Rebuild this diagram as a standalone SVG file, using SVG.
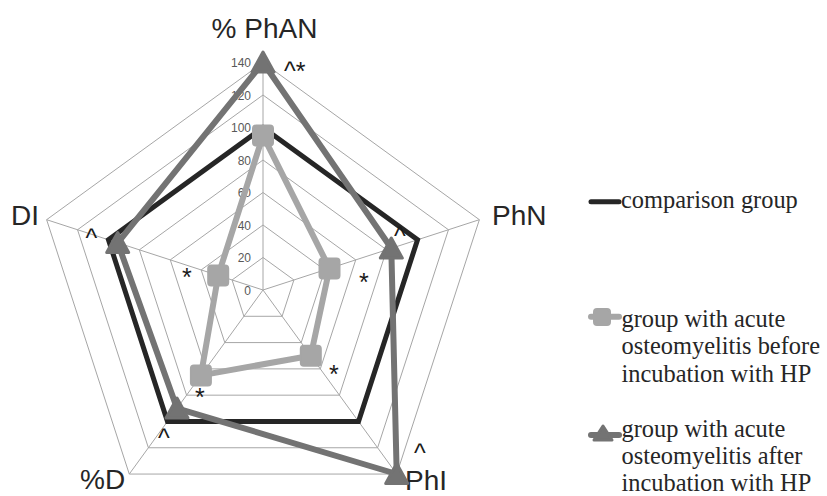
<svg xmlns="http://www.w3.org/2000/svg" width="827" height="496" viewBox="0 0 827 496">
<style>
.grid{fill:none;stroke:#a6a6a6;stroke-width:1}
.ax{font-family:"Liberation Sans",Arial,sans-serif;font-size:28px;fill:#262626}
.tick{font-family:"Liberation Sans",Arial,sans-serif;font-size:12px;fill:#595959;text-anchor:end}
.note{font-family:"Liberation Sans",Arial,sans-serif;font-size:25px;fill:#1a1a1a}
.leg{font-family:"Liberation Serif","Times New Roman",serif;font-size:24.4px;fill:#262626}
.s1{fill:none;stroke:#262626;stroke-width:5;stroke-linejoin:miter}
.s2{fill:none;stroke:#a6a6a6;stroke-width:6;stroke-linejoin:round}
.s3{fill:none;stroke:#737373;stroke-width:6;stroke-linejoin:round}
.sq{fill:#a6a6a6;stroke:#a6a6a6;stroke-width:2;stroke-linejoin:round}
.tri{fill:#737373;stroke:#737373;stroke-width:3;stroke-linejoin:round}
</style>
<rect width="827" height="496" fill="#ffffff"/>
<g id="grid">
<polygon class="grid" points="263,257.5 293.91,279.96 282.10,316.29 243.90,316.29 232.09,279.96"/>
<polygon class="grid" points="263,225 324.82,269.91 301.21,342.59 224.79,342.59 201.18,269.91"/>
<polygon class="grid" points="263,192.5 355.73,259.87 320.31,368.88 205.69,368.88 170.27,259.87"/>
<polygon class="grid" points="263,160 386.64,249.83 339.41,395.17 186.59,395.17 139.36,249.83"/>
<polygon class="grid" points="263,127.5 417.55,239.79 358.52,421.46 167.48,421.46 108.45,239.79"/>
<polygon class="grid" points="263,95 448.46,229.75 377.62,447.76 148.38,447.76 77.54,229.75"/>
<polygon class="grid" points="263,62.5 479.37,219.70 396.72,474.05 129.28,474.05 46.63,219.70"/>
<path class="grid" d="M263,290 L263,62.5 M263,290 L479.37,219.70 M263,290 L396.72,474.05 M263,290 L129.28,474.05 M263,290 L46.63,219.70"/>
</g>
<g id="ticks">
<text class="tick" x="251" y="294.5">0</text>
<text class="tick" x="251" y="262">20</text>
<text class="tick" x="251" y="229.5">40</text>
<text class="tick" x="251" y="197">60</text>
<text class="tick" x="251" y="164.5">80</text>
<text class="tick" x="251" y="132">100</text>
<text class="tick" x="251" y="99.5">120</text>
<text class="tick" x="251" y="67">140</text>
</g>
<g id="axis-labels">
<text class="ax" x="264.5" y="38" text-anchor="middle">% PhAN</text>
<text class="ax" x="492" y="225">PhN</text>
<text class="ax" x="405" y="490">PhI</text>
<text class="ax" x="80" y="489">%D</text>
<text class="ax" x="11" y="225">DI</text>
</g>
<g id="series-comparison">
<polygon class="s1" points="263,127.5 417.55,239.79 358.52,421.46 167.48,421.46 108.45,239.79"/>
</g>
<g id="series-before">
<polygon class="s2" points="263,135.6 329.5,268.4 310.8,355.7 200.9,375.4 218.2,275.4"/>
<rect class="sq" x="253" y="125.6" width="20" height="20" rx="3"/>
<rect class="sq" x="319.5" y="258.4" width="20" height="20" rx="3"/>
<rect class="sq" x="300.8" y="345.7" width="20" height="20" rx="3"/>
<rect class="sq" x="190.9" y="365.4" width="20" height="20" rx="3"/>
<rect class="sq" x="208.2" y="265.4" width="20" height="20" rx="3"/>
</g>
<g id="series-after">
<polygon class="s3" points="263,62.5 391.3,248.3 396.7,474 177,408.3 117.7,242.8"/>
<polygon class="tri" points="263,52 274,72 252,72"/>
<polygon class="tri" points="391.3,238 402.3,258 380.3,258"/>
<polygon class="tri" points="396.7,463.5 407.7,483.5 385.7,483.5"/>
<polygon class="tri" points="177,398 188,418 166,418"/>
<polygon class="tri" points="117.7,232.5 128.7,252.5 106.7,252.5"/>
</g>
<g id="notes">
<text class="note" x="284" y="80">^*</text>
<text class="note" x="182" y="286">*</text>
<text class="note" x="85.5" y="247">^</text>
<text class="note" x="394" y="245">^</text>
<text class="note" x="359" y="291">*</text>
<text class="note" x="329" y="383">*</text>
<text class="note" x="195" y="406">*</text>
<text class="note" x="158" y="447">^</text>
<text class="note" x="414" y="461.5">^</text>
</g>
<g id="legend">
<line x1="591" y1="201.7" x2="619" y2="201.7" stroke="#262626" stroke-width="5" stroke-linecap="round"/>
<text class="leg" x="621" y="208">comparison group</text>
<line x1="591" y1="316.7" x2="619" y2="316.7" stroke="#a6a6a6" stroke-width="6" stroke-linecap="round"/>
<rect class="sq" x="594" y="309" width="16" height="16" rx="3"/>
<text class="leg" x="621.5" y="326.7">group with acute</text>
<text class="leg" x="621.5" y="354.2">osteomyelitis before</text>
<text class="leg" x="621.5" y="381.7">incubation with HP</text>
<line x1="591" y1="435" x2="619" y2="435" stroke="#737373" stroke-width="6" stroke-linecap="round"/>
<polygon class="tri" points="603,426 612,440 594,440"/>
<text class="leg" x="621.5" y="437.3">group with acute</text>
<text class="leg" x="621.5" y="464.3">osteomyelitis after</text>
<text class="leg" x="621.5" y="491.3">incubation with HP</text>
</g>
</svg>
